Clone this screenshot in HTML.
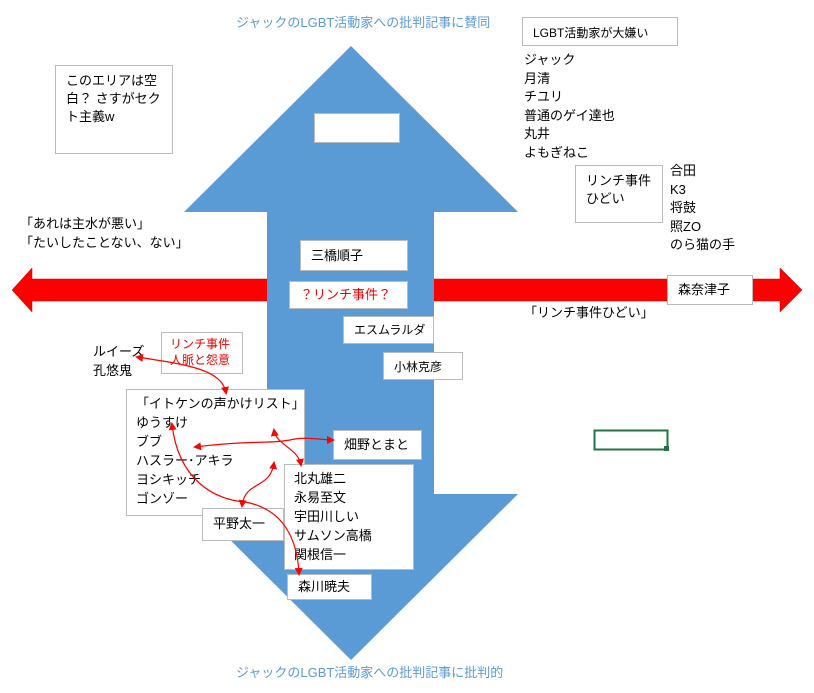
<!DOCTYPE html>
<html><head><meta charset="utf-8"><style>
body{margin:0;width:814px;height:693px;background:#fff;position:relative;overflow:hidden;font-family:"Liberation Sans","Noto Sans CJK JP",sans-serif;font-size:13px;color:#000}
.b{position:absolute;background:#fff;border:1px solid #bbb;box-sizing:border-box;padding:6px 10px;line-height:18px;white-space:nowrap}
.t{position:absolute;line-height:18.5px;white-space:nowrap}
</style></head><body>
<svg width="814" height="693" style="position:absolute;left:0;top:0">
<polygon points="12,290 32,268 32,279 780,279 780,268 802,290 780,312 780,301 32,301 32,312" fill="#f00" stroke="#c00" stroke-width="0.5"/>
<polygon points="351,46 518,212 434,212 434,494 518,494 351,660 184,494 267,494 267,212 184,212" fill="#5b9bd5"/>
<rect x="594.5" y="430.5" width="73" height="19" fill="none" stroke="#217346" stroke-width="2"/>
<rect x="664" y="446" width="5" height="5" fill="#217346"/>
</svg>
<div class="t" style="left:236px;top:14px;color:#5b9bd5">ジャックのLGBT活動家への批判記事に賛同</div>
<div class="t" style="left:236px;top:664px;color:#5b9bd5">ジャックのLGBT活動家への批判記事に批判的</div>
<div class="b" style="left:314px;top:113px;width:86px;height:30px"></div>
<div class="b" style="left:55px;top:65px;width:118px;height:89px;padding:6px 10px;white-space:normal">このエリアは空白？ さすがセクト主義w</div>
<div class="b" style="left:522px;top:17px;width:156px;height:29px;font-size:12px">LGBT活動家が大嫌い</div>
<div class="t" style="left:524px;top:51px">ジャック<br>月清<br>チユリ<br>普通のゲイ達也<br>丸井<br>よもぎねこ</div>
<div class="b" style="left:575px;top:165px;width:88px;height:58px">リンチ事件<br>ひどい</div>
<div class="t" style="left:670px;top:162px">合田<br>K3<br>将鼓<br>照ZO<br>のら猫の手</div>
<div class="t" style="left:20px;top:215px">「あれは主水が悪い」<br>「たいしたことない、ない」</div>
<div class="b" style="left:300px;top:240px;width:108px;height:31px">三橋順子</div>
<div class="b" style="left:289px;top:281px;width:119px;height:28px;color:#e00;padding:4px 10px">？リンチ事件？</div>
<div class="b" style="left:667px;top:275px;width:86px;height:30px;padding:5px 10px">森奈津子</div>
<div class="t" style="left:524px;top:304px">「リンチ事件ひどい」</div>
<div class="b" style="left:343px;top:316px;width:91px;height:28px;font-size:12px;padding:4px 10px">エスムラルダ</div>
<div class="b" style="left:383px;top:352px;width:80px;height:28px;font-size:12px;padding:5px 10px">小林克彦</div>
<div class="t" style="left:93px;top:343px">ルイーズ<br>孔悠鬼</div>
<div class="b" style="left:161px;top:332px;width:82px;height:42px;color:#e00;font-size:12px;line-height:16px;padding:3px 8px">リンチ事件<br>人脈と怨意</div>
<div class="b" style="left:126px;top:389px;width:179px;height:127px;line-height:19px;padding:4px 6px 4px 9px">「イトケンの声かけリスト」<br>ゆうすけ<br>ブブ<br>ハスラー･アキラ<br>ヨシキッチ<br>ゴンゾー</div>
<div class="b" style="left:333px;top:430px;width:89px;height:30px;padding:5px 10px">畑野とまと</div>
<div class="b" style="left:284px;top:464px;width:130px;height:106px;line-height:19px;padding:4px 9px">北丸雄二<br>永易至文<br>宇田川しい<br>サムソン高橋<br>関根信一</div>
<div class="b" style="left:202px;top:508px;width:82px;height:33px;padding:6px 10px">平野太一</div>
<div class="b" style="left:287px;top:574px;width:85px;height:26px;padding:3px 10px">森川暁夫</div>
<svg width="814" height="693" style="position:absolute;left:0;top:0">
<defs><marker id="a" markerWidth="8" markerHeight="8" refX="6" refY="4" orient="auto-start-reverse" markerUnits="userSpaceOnUse"><path d="M0,0 L8,4 L0,8z" fill="#f00"/></marker></defs>
<g fill="none" stroke="#f00" stroke-width="1.2" marker-start="url(#a)" marker-end="url(#a)">
<path d="M137,357 C190,365 222,370 226,393"/>
<path d="M195,447 C250,440 270,444 290,440 C305,436 320,440 333,440"/>
<path d="M274,430 C276,445 298,448 301,465"/>
<path d="M274,463 C270,490 245,480 242,506"/>
<path d="M172,424 C178,480 215,500 245,502 C290,510 298,550 299,574"/>
</g></svg>
</body></html>
